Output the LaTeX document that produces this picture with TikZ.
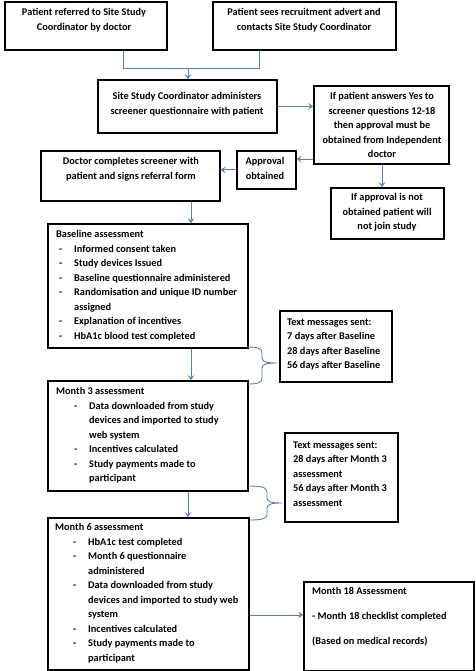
\documentclass[tikz,border=0pt]{standalone}
\usepackage{fontspec}
\setmainfont{Carlito}
\usetikzlibrary{arrows.meta}
\definecolor{cblue}{RGB}{79,129,189}
\newcommand{\itm}[1]{\hspace*{3pt}\makebox[15pt][l]{-}#1}
\newcommand{\cnt}[1]{\hspace*{18pt}#1}
\newcommand{\itmb}[1]{\hspace*{18pt}\makebox[15pt][l]{-}#1}
\newcommand{\cntb}[1]{\hspace*{33pt}#1}
\begin{document}
\begin{tikzpicture}[x=1pt,y=-1pt,
  box/.style={draw, line width=1.8pt, inner sep=0pt, anchor=north west},
  txt/.style={inner sep=0pt, font=\bfseries\fontsize{10.3}{14.5}\selectfont},
  ctxt/.style={txt, anchor=north, align=center},
  ltxt/.style={txt, anchor=north west, align=left},
  line/.style={draw=cblue, line width=0.9pt},
  arr/.style={line, -{Stealth[length=5pt,width=7pt,inset=2.5pt]}}]
\useasboundingbox (0,0) rectangle (475,671);
% boxes
\node[box, minimum width=162pt, minimum height=48pt] (A) at (4,1) {};
\node[box, minimum width=183pt, minimum height=48pt] (B) at (212,1) {};
\node[box, minimum width=179pt, minimum height=53pt] (C) at (97,79) {};
\node[box, minimum width=135pt, minimum height=78pt] (D) at (313,85) {};
\node[box, minimum width=59pt, minimum height=38pt] (E) at (236,150) {};
\node[box, minimum width=179pt, minimum height=50pt] (F) at (40,150) {};
\node[box, minimum width=113pt, minimum height=51pt] (G) at (330,187) {};
\node[box, minimum width=200pt, minimum height=124pt] (H) at (47,223) {};
\node[box, minimum width=112pt, minimum height=71pt] (I) at (279,310) {};
\node[box, minimum width=200pt, minimum height=110pt] (J) at (47,380) {};
\node[box, minimum width=113pt, minimum height=89pt] (K) at (284,432) {};
\node[box, minimum width=201pt, minimum height=152pt] (L) at (47,517) {};
\node[box, minimum width=170pt, minimum height=89pt] (M) at (303,581) {};
% texts
\node[ctxt] (tA) at (84,8.5) {Patient referred to Site Study\\Coordinator by doctor};
\node[ctxt] (tB) at (304,8.5) {Patient sees recruitment advert and\\contacts Site Study Coordinator};
\node[ctxt] (tC) at (187,92.5) {Site Study Coordinator administers\\screener questionnaire with patient};
\node[ctxt] (tD) at (382,92.5) {If patient answers Yes to\\screener questions 12-18\\then approval must be\\obtained from Independent\\doctor};
\node[ctxt] (tE) at (265,157.5) {Approval\\obtained};
\node[ctxt] (tF) at (131,157.5) {Doctor completes screener with\\patient and signs referral form};
\node[ctxt] (tG) at (387,193.5) {If approval is not\\obtained patient will\\not join study};
\node[ltxt] (tH) at (56,230.5) {Baseline assessment\\
\itm{Informed consent taken}\\
\itm{Study devices Issued}\\
\itm{Baseline questionnaire administered}\\
\itm{Randomisation and unique ID number}\\
\cnt{assigned}\\
\itm{Explanation of incentives}\\
\itm{HbA1c blood test completed}};
\node[ltxt] (tI) at (287,318.5) {Text messages sent:\\7 days after Baseline\\28 days after Baseline\\56 days after Baseline};
\node[ltxt] (tJ) at (56,387.5) {Month 3 assessment\\
\itmb{Data downloaded from study}\\
\cntb{devices and imported to study}\\
\cntb{web system}\\
\itmb{Incentives calculated}\\
\itmb{Study payments made to}\\
\cntb{participant}};
\node[ltxt] (tK) at (293,441.5) {Text messages sent:\\28 days after Month 3\\assessment\\56 days after Month 3\\assessment};
\node[ltxt] (tL) at (55,523.5) {Month 6 assessment\\
\itmb{HbA1c test completed}\\
\itmb{Month 6 questionnaire}\\
\cntb{administered}\\
\itmb{Data downloaded from study}\\
\cntb{devices and imported to study web}\\
\cntb{system}\\
\itmb{Incentives calculated}\\
\itmb{Study payments made to}\\
\cntb{participant}};
\node[ltxt] (tM) at (312,587) {Month 18 Assessment\\[10.5pt]- Month 18 checklist completed\\[10.5pt](Based on medical records)};
% connectors
\coordinate (jA) at (123,68);
\coordinate (jB) at (259,68);
\coordinate (jC) at (188,68);
\draw[line] (A.south -| jA) -- (jA) -- (jB) -- (B.south -| jB);
\draw[arr] (jC) -- (C.north -| jC);
\draw[arr] (C.east) -- (C.east -| D.west);
\coordinate (yDE) at (0,159);
\draw[arr] (D.west |- yDE) -- (E.east |- yDE);
\draw[arr] (E.west) -- (E.west -| F.east);
\coordinate (xDG) at (382,0);
\draw[arr] (D.south -| xDG) -- (G.north -| xDG);
\coordinate (xFH) at (191,0);
\draw[arr] (F.south -| xFH) -- (H.north -| xFH);
\draw[arr] (H.south -| xFH) -- (J.north -| xFH);
\coordinate (xJL) at (188,0);
\draw[arr] (J.south -| xJL) -- (L.north -| xJL);
\coordinate (yLM) at (0,615);
\draw[arr] (L.east |- yLM) -- (M.west |- yLM);
% braces
\coordinate (b1) at (277,363);
\draw[line] (247,347) .. controls (257,347) and (262,348) .. (262,353) -- (262,358)
  .. controls (262,362) and (267,363) .. (b1)
  .. controls (267,363) and (262,364) .. (262,368) -- (262,378)
  .. controls (262,383) and (257,384) .. (248,384);
\coordinate (b2) at (282,503);
\draw[line] (248,486) .. controls (260,486) and (267,487) .. (267,492) -- (267,498)
  .. controls (267,502) and (272,503) .. (b2)
  .. controls (272,503) and (267,504) .. (267,508) -- (267,515)
  .. controls (267,519) and (260,520) .. (250,520);
\end{tikzpicture}
\end{document}
